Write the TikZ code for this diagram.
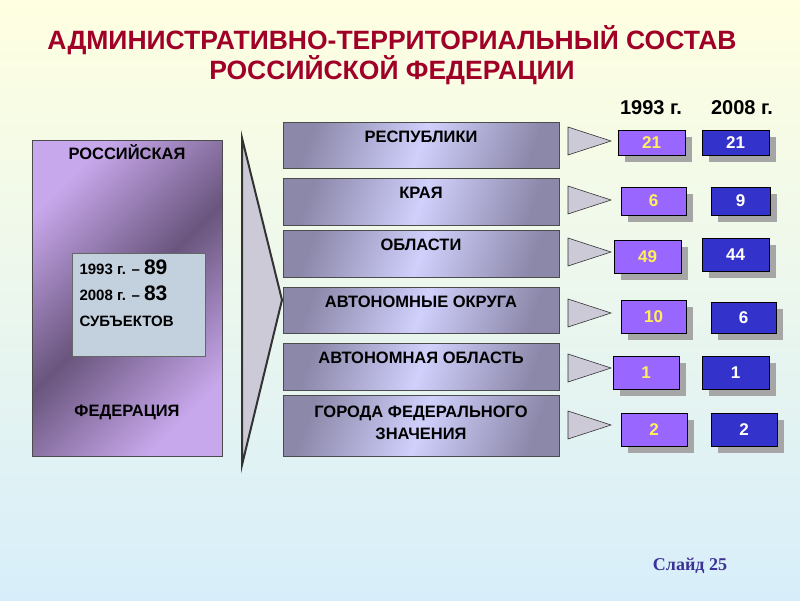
\documentclass[tikz,border=0pt]{standalone}
\usepackage{fontspec}
\setmainfont{Liberation Sans}
\newfontfamily\serifb{Liberation Serif}
\begin{document}
\begin{tikzpicture}[x=1pt,y=-1pt,
  midbox/.style={draw=black!70,line width=0.6pt,shading=axis,top color={rgb,255:red,140;green,136;blue,170},bottom color={rgb,255:red,140;green,136;blue,170},middle color={rgb,255:red,208;green,208;blue,252},shading angle=70},
  ptr/.style={draw=black!80,fill={rgb,255:red,205;green,202;blue,215},line width=0.6pt},
  shadowb/.style={fill=black!35,draw=none},
  ybox/.style={draw=black,fill={rgb,255:red,153;green,102;blue,255},line width=0.6pt},
  bbox/.style={draw=black,fill={rgb,255:red,51;green,51;blue,204},line width=0.6pt},
  ytxt/.style={font=\bfseries\fontsize{17}{17}\selectfont,text={rgb,255:red,255;green,240;blue,90}},
  btxt/.style={font=\bfseries\fontsize{17}{17}\selectfont,text=white},
  lbl/.style={font=\bfseries\fontsize{16.5}{22}\selectfont,align=center}
]
\useasboundingbox (0,0) rectangle (800,600);
\shade[top color={rgb,255:red,255;green,255;blue,225},bottom color={rgb,255:red,215;green,238;blue,250}] (0,0) rectangle (800,600);
\definecolor{ttl}{RGB}{160,0,40}
\node (t1) at (392,40) {\color{ttl}\bfseries\fontsize{26.5}{28}\selectfont АДМИНИСТРАТИВНО-ТЕРРИТОРИАЛЬНЫЙ СОСТАВ};
\node (t2) at (392,70) {\color{ttl}\bfseries\fontsize{26.5}{28}\selectfont РОССИЙСКОЙ ФЕДЕРАЦИИ};
\node (h1) at (651,108) {\bfseries\fontsize{20}{21}\selectfont 1993 г.};
\node (h2) at (742,108) {\bfseries\fontsize{20}{21}\selectfont 2008 г.};
% left box
\shade[draw=black!70,line width=0.6pt,shading=axis,top color={rgb,255:red,200;green,168;blue,236},bottom color={rgb,255:red,200;green,168;blue,236},middle color={rgb,255:red,105;green,85;blue,125},shading angle=45] (32,140) rectangle (222,456);
\node (rf1) at (127,152) {\bfseries\fontsize{16.5}{17}\selectfont РОССИЙСКАЯ};
\node (rf2) at (127,412) {\bfseries\fontsize{16.5}{17}\selectfont ФЕДЕРАЦИЯ};
\node[draw=black!60,fill={rgb,255:red,195;green,208;blue,222},minimum width=133,minimum height=103,anchor=north west] (inner) at (72,253) {};
\node[anchor=north west,align=left,font=\bfseries\fontsize{15}{26}\selectfont] (innt) at (76,256) {1993 г. – {\fontsize{21}{22}\selectfont 89}\\2008 г. – {\fontsize{21}{22}\selectfont 83}\\СУБЪЕКТОВ};
% big chevron
\draw[ptr,line width=2pt,line join=miter] (242,138) -- (282,300) -- (242,465) -- cycle;
% rows
\foreach \ya/\yb/\txt/\i in {122/168/РЕСПУБЛИКИ/1,178/225/КРАЯ/2,230/277/ОБЛАСТИ/3,287/333/АВТОНОМНЫЕ ОКРУГА/4,343/390/АВТОНОМНАЯ ОБЛАСТЬ/5}{
  \shade[midbox] (283,\ya) rectangle (559,\yb);
  \node[lbl] (m\i) at (421,\ya+15) {\txt};
}
\shade[midbox] (283,395) rectangle (559,456);
\node[lbl] (m6) at (421,423) {ГОРОДА ФЕДЕРАЛЬНОГО\\ЗНАЧЕНИЯ};
% small pointers and number boxes
\foreach \yc/\ax/\aya/\ayb/\bxa/\bya/\byb/\ya/\yv/\bx/\bw/\i in {
 141/618/130/155/685/130/155/21/21/702/769/1,
 200/621/187/215/686/187/215/6/9/711/770/2,
 252/614/240/273/681/238/271/49/44/702/769/3,
 313/621/300/333/686/302/333/10/6/711/776/4,
 368/613/356/389/679/356/389/1/1/702/769/5,
 425/621/413/446/687/413/446/2/2/711/777/6}{
  \draw[ptr] (568,\yc-14) -- (611,\yc) -- (568,\yc+14) -- cycle;
  \fill[shadowb] (\ax+7,\aya+7) rectangle (\bxa+7,\ayb+7);
  \draw[ybox] (\ax,\aya) rectangle (\bxa,\ayb);
  \node[ytxt] (y\i) at ({(\ax+\bxa)/2},{(\aya+\ayb)/2}) {\ya};
  \fill[shadowb] (\bx+7,\bya+7) rectangle (\bw+7,\byb+7);
  \draw[bbox] (\bx,\bya) rectangle (\bw,\byb);
  \node[btxt] (b\i) at ({(\bx+\bw)/2},{(\bya+\byb)/2}) {\yv};
}
\node (sl) at (690,566) {\color[RGB]{60,50,150}\serifb\bfseries\fontsize{18}{19}\selectfont Слайд 25};
\end{tikzpicture}
\end{document}
